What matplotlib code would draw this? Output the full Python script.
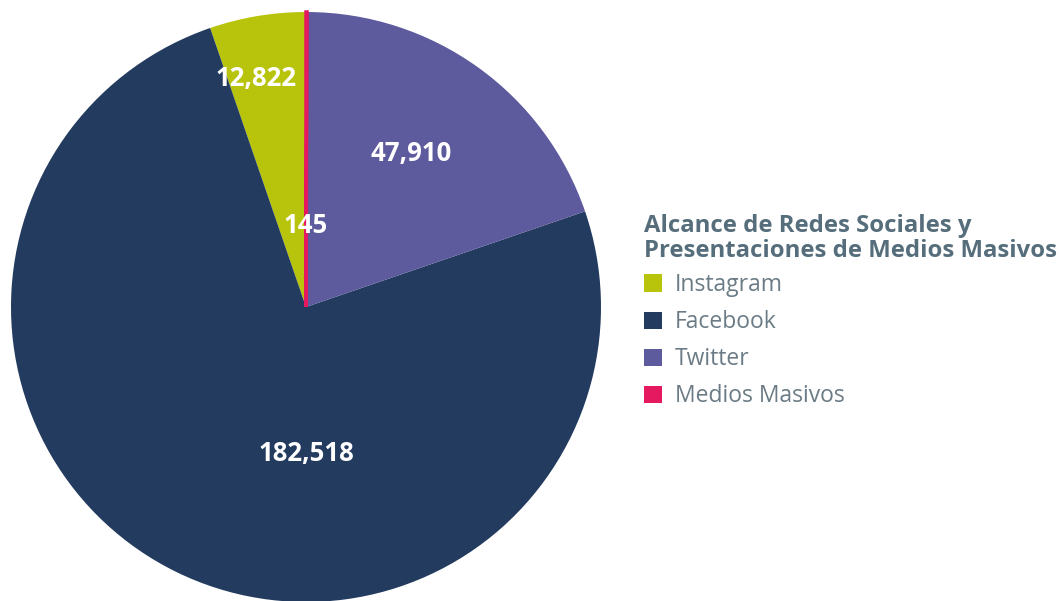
import matplotlib.pyplot as plt
from matplotlib.patches import Patch

categories = ["Instagram", "Facebook", "Twitter", "Medios Masivos"]
values = [12822, 182518, 47910, 145]
colors = ["#b8c40c", "#223b5f", "#5d5a9e", "#e5195f"]
title = "Alcance de Redes Sociales y\nPresentaciones de Medios Masivos"

# where the value labels sit inside the pie (data units, radius = 1)
label_pos = [(-0.17, 0.773), (0.0, -0.495), (0.356, 0.522), (0.0, 0.275)]

W, H = 1062, 601
fig = plt.figure(figsize=(W / 100, H / 100), dpi=100)
ax = fig.add_axes([(306 - 295) / W, (H - 307 - 295) / H, 590 / W, 590 / H])

wedges, _ = ax.pie(values, colors=colors, startangle=90, counterclock=True,
                   radius=1, wedgeprops=dict(linewidth=0))
# the tiny slice is drawn as a visible strip
wedges[3].set_edgecolor(colors[3])
wedges[3].set_linewidth(2.5)
ax.set_xlim(-1, 1)
ax.set_ylim(-1, 1)
ax.set_aspect("equal")
ax.axis("off")

for v, (x, y) in zip(values, label_pos):
    ax.text(x, y, f"{v:,}", ha="center", va="center", color="white",
            fontsize=18.5, fontweight="bold", family="Open Sans")

handles = [Patch(facecolor=c, edgecolor="none") for c in colors]
leg = fig.legend(handles, categories, loc="upper left",
                 bbox_to_anchor=(633 / W, 1 - 203 / H), frameon=False,
                 title=title, alignment="left",
                 title_fontproperties=dict(family="Open Sans", weight="bold", size=17.2),
                 prop=dict(family="Open Sans", size=16.5),
                 handlelength=0.78, handleheight=0.78, handletextpad=0.55,
                 labelspacing=0.57, borderpad=0)
leg.get_title().set_color("#566e7c")
leg.get_title().set_linespacing(1.05)
leg._legend_box.sep = 7
for t in leg.get_texts():
    t.set_color("#6b7b85")

fig.savefig("out.png", dpi=100)
